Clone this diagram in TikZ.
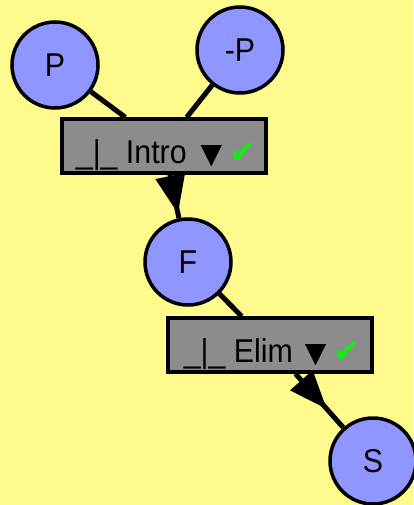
\documentclass[tikz,border=0pt]{standalone}
\usepackage{fontspec}
\setmainfont{Liberation Sans}[FakeStretch=0.92]
\newfontfamily\symfont{DejaVu Sans}
\usetikzlibrary{arrows.meta,decorations.markings}

\definecolor{bgyellow}{RGB}{255,250,140}
\definecolor{nodeblue}{RGB}{143,150,255}
\definecolor{rulegray}{RGB}{140,140,140}
\definecolor{okgreen}{RGB}{20,235,20}
\newcommand{\okmark}{{\symfont\fontsize{32}{32}\selectfont\color{okgreen}✔}}
\newcommand{\menumark}{{\symfont\fontsize{28}{28}\selectfont ▼}}

\begin{document}
\begin{tikzpicture}[x=1pt,y=-1pt,
        formula/.style={circle,draw=black,line width=3.5pt,fill=nodeblue,
            minimum size=86pt,inner sep=0pt,font=\fontsize{33}{33}\selectfont},
        rulebox/.style={rectangle,draw=black,line width=3.5pt,fill=rulegray,
            minimum width=204pt,minimum height=54pt,inner sep=0pt,
            text height=34pt,text depth=0pt,font=\fontsize{33}{33}\selectfont},
        link/.style={line width=5pt},
        arrowat/.style={link,postaction={decorate},
            decoration={markings,mark=at position #1 with
                {\arrow[line width=1pt]{Triangle[length=38pt,width=30pt]}}}}
    ]
    \useasboundingbox (0,0) rectangle (413,505);
    \fill[bgyellow] (0,0) rectangle (413,505);

    % formulas and rules
    \node[formula] (P) at (55,65) {P};
    \node[formula] (negP) at (240,50) {-P};
    \node[rulebox] (intro) at (164,146) {\hspace{4pt}\_|\_ Intro\hspace{14pt}\menumark\hspace{7pt}\okmark};
    \node[formula] (F) at (188,262) {F};
    \node[rulebox] (elim) at (270,345) {\hspace{4pt}\_|\_ Elim\hspace{12pt}\menumark\hspace{7pt}\okmark};
    \node[formula] (S) at (373,461) {S};

    % links
    \draw[link] (P) -- (intro);
    \draw[link] (negP) -- (intro);
    \draw[arrowat=-5pt] (intro) -- (F);
    \draw[link] (F) -- (elim);
    \draw[arrowat=-25pt] (elim) -- (S);
\end{tikzpicture}
\end{document}
